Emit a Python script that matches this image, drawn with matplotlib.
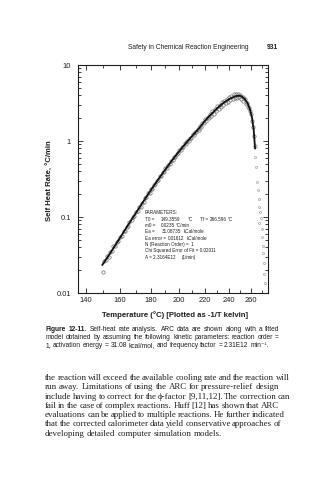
import matplotlib
matplotlib.use("Agg")
import matplotlib.pyplot as plt
from matplotlib.ticker import FixedLocator, NullFormatter, LogLocator

# ARC self-heat rate data (deg C, deg C/min)
data_temp = [149.6, 150.5, 151.3, 152.4, 153.2, 154.1, 155.3, 156.0, 157.2, 158.1,
             159.0, 160.2, 161.1, 162.3, 163.0, 164.2, 165.1, 166.0, 167.3, 168.2,
             169.0, 170.1, 171.2, 172.0, 173.3, 174.1, 175.2, 176.0, 177.1, 178.3,
             179.2, 180.0, 181.1, 182.2, 183.0, 184.3, 185.1, 186.2, 187.0, 188.1,
             189.3, 190.2, 191.0, 192.1, 193.2, 194.0, 195.3, 196.1, 197.0, 198.2,
             199.1, 200.0, 201.2, 202.1, 203.0, 204.2, 205.1, 206.0, 207.2, 208.1,
             209.0, 210.2, 211.1, 212.0, 213.2, 214.1, 215.0, 216.2, 217.1, 218.0,
             219.2, 220.1, 221.0, 222.2, 223.1, 224.0, 225.2, 226.1, 227.0, 228.2,
             229.1, 230.0, 231.2, 232.1, 233.0, 234.2, 235.1, 236.0, 237.2, 238.1,
             239.0, 240.2, 241.1, 242.0, 243.2, 244.1, 245.0, 246.2, 247.1, 248.0,
             249.2, 250.1, 251.0, 252.1, 253.0, 254.0, 255.1, 256.0, 257.0, 258.0,
             259.0, 260.0, 261.0, 262.0, 262.8, 263.5]
data_rate = [0.019, 0.026, 0.027, 0.031, 0.030, 0.035, 0.036, 0.041, 0.041, 0.047,
             0.048, 0.055, 0.056, 0.065, 0.066, 0.074, 0.077, 0.087, 0.090, 0.101,
             0.103, 0.116, 0.119, 0.134, 0.137, 0.154, 0.158, 0.177, 0.181, 0.204,
             0.208, 0.232, 0.236, 0.266, 0.270, 0.302, 0.305, 0.342, 0.345, 0.386,
             0.39, 0.44, 0.44, 0.49, 0.495, 0.55, 0.555, 0.61, 0.615, 0.68,
             0.685, 0.76, 0.76, 0.84, 0.83, 0.93, 0.91, 1.01, 1.00, 1.11,
             1.09, 1.22, 1.20, 1.31, 1.30, 1.43, 1.40, 1.58, 1.52, 1.72,
             1.70, 1.92, 1.82, 2.08, 1.98, 2.25, 2.15, 2.45, 2.30, 2.62,
             2.50, 2.85, 2.65, 3.00, 2.80, 3.25, 3.00, 3.40, 3.15, 3.60,
             3.30, 3.85, 3.45, 3.95, 3.55, 4.10, 3.65, 4.20, 3.70, 4.15,
             3.75, 4.05, 3.60, 3.85, 3.40, 3.55, 3.10, 3.20, 2.80, 2.75,
             2.45, 2.25, 1.85, 1.55, 1.15, 0.85]

# points after the fitted curve ends
tail_temp = [264.2, 264.8, 265.6, 266.5, 267.2, 267.8, 268.6, 269.2, 268.0, 270.0,
             270.5, 271.0, 271.5, 272.0, 272.5, 273.5]
tail_rate = [0.62, 0.45, 0.29, 0.23, 0.17, 0.135, 0.116, 0.097, 0.083, 0.070,
             0.055, 0.042, 0.034, 0.025, 0.018, 0.0135]

# fitted model curve
fit_temp = [149.4, 155, 160, 165, 170, 175, 180, 185, 190, 195, 200, 205, 210,
            215, 220, 225, 230, 235, 240, 245, 248, 251, 254, 257, 259, 261,
            262.5, 263.8]
fit_rate = [0.0235, 0.036, 0.053, 0.078, 0.112, 0.16, 0.225, 0.31, 0.42, 0.56,
            0.73, 0.93, 1.17, 1.45, 1.85, 2.25, 2.7, 3.15, 3.55, 3.85, 3.95,
            3.9, 3.6, 3.1, 2.6, 2.0, 1.4, 0.8]

x_ticks = [140, 160, 180, 200, 220, 240, 260]
x_minor = [150, 170, 190, 210, 230, 250, 270]
y_ticks = [0.01, 0.1, 1, 10]
y_tick_labels = ["0.01", "0.1", "1", "10"]

# fit parameter block: (text, x pixel) pairs per line
params = [
    [("PARAMETERS:", 145)],
    [("T0 =", 145), ("149.3559", 161), ("\u00b0C", 188),
     ("Tf =", 200), ("266.596", 210), ("\u00b0C", 228)],
    [("m0 =", 145), ("0.0235", 161), ("\u00b0C/min", 176)],
    [("Ea =", 145), ("31.08735", 162), ("kCal/mole", 184)],
    [("Ea error =", 145), ("0.01612", 168), ("kCal/mole", 187)],
    [("N (Reaction Order) =  1", 145)],
    [("Chi Squared Error of Fit = 0.02011", 145)],
    [("A = 2.3164E12", 145), ("(1/min)", 182)],
]

caption = [
    [("Figure", "bold"), ("12-11.", "bold"), ("Self-heat", None), ("rate", None),
     ("analysis.", None), ("ARC", None), ("data", None), ("are", None), ("shown", None),
     ("along", None), ("with", None), ("a", None), ("fitted", None)],
    "model obtained by assuming the following kinetic parameters: reaction order =",
    "1, activation energy = 31.08 kcal/mol, and frequency factor = 2.31E12 min\u207b\u00b9.",
]

body = [
    "the reaction will exceed the available cooling rate and the reaction will",
    "run away. Limitations of using the ARC for pressure-relief design",
    "include having to correct for the \u03d5-factor [9,11,12]. The correction can",
    "fail in the case of complex reactions. Huff [12] has shown that ARC",
    "evaluations can be applied to multiple reactions. He further indicated",
    "that the corrected calorimeter data yield conservative approaches of",
    "developing detailed computer simulation models.",
]

W, H = 324, 480
ink = "#1e1e1e"
sans = ["Liberation Sans", "DejaVu Sans"]
serif = ["Liberation Serif", "DejaVu Serif"]


def fx(px):
    return px / W


def fy(py):
    return 1 - py / H


def inv_kelvin(t):
    return -1.0 / (t + 273.15)


def from_inv_kelvin(u):
    return -1.0 / u - 273.15


fig = plt.figure(figsize=(W / 100, H / 100), dpi=100)
renderer = fig.canvas.get_renderer()

ax = fig.add_axes([fx(78), fy(293), (268 - 78) / W, (293 - 65) / H])
ax.set_xscale("function", functions=(inv_kelvin, from_inv_kelvin))
ax.set_yscale("log")

ax.plot(data_temp, data_rate, linestyle="none", marker="o", ms=2.4,
        mfc="none", mec="#707070", mew=0.5)
ax.plot(tail_temp, tail_rate, linestyle="none", marker="o", ms=1.5,
        mfc="none", mec="#8a8a8a", mew=0.4)
ax.plot(fit_temp, fit_rate, color="#111111", lw=1.3)

ax.set_xlim(135.5, 276.4)
ax.set_ylim(0.01, 10)
ax.xaxis.set_major_locator(FixedLocator(x_ticks))
ax.xaxis.set_minor_locator(FixedLocator(x_minor))
ax.xaxis.set_minor_formatter(NullFormatter())
ax.set_xticklabels([str(t) for t in x_ticks])
ax.yaxis.set_major_locator(FixedLocator(y_ticks))
ax.yaxis.set_minor_locator(LogLocator(base=10, subs=range(2, 10)))
ax.yaxis.set_minor_formatter(NullFormatter())
ax.set_yticklabels(y_tick_labels)

ax.tick_params(which="both", direction="in", top=True, right=True,
               colors=ink, labelsize=5.4, width=0.6)
ax.tick_params(which="major", length=3.5)
ax.tick_params(which="minor", length=2)
ax.tick_params(axis="x", pad=3)
ax.tick_params(axis="y", pad=5)
for lab in ax.get_xticklabels() + ax.get_yticklabels():
    lab.set_family(sans)
for s in ax.spines.values():
    s.set_linewidth(0.8)
    s.set_color(ink)

fig.text(fx(50), fy(181), "Self Heat Rate, \u00b0C/min", rotation=90,
         ha="center", va="center", fontsize=5.6, fontweight="bold",
         family=sans, color=ink)
fig.text(fx(175), fy(315), "Temperature (\u00b0C) [Plotted as -1/T kelvin]",
         ha="center", va="center", fontsize=5.6, fontweight="bold",
         family=sans, color=ink)

# parameter block inside the plot
for i, row in enumerate(params):
    y = 213 + i * 6.3
    for item, x in row:
        fig.text(fx(x), fy(y), item, fontsize=3.3, family=sans, color=ink,
                 va="center")

# running header
fig.text(fx(128), fy(49), "Safety in Chemical Reaction Engineering",
         fontsize=4.8, family=sans, color=ink, va="baseline")
fig.text(fx(278), fy(49), "931", fontsize=4.8, family=sans, color=ink,
         va="baseline", ha="right", fontweight="bold")


def put_line(words, x0, x1, y, justify, size, family):
    if isinstance(words, str):
        words = [(w, None) for w in words.split()]
    objs = [fig.text(fx(x0), fy(y), w, fontsize=size, family=family,
                     fontweight=wt or "normal", color=ink, va="baseline")
            for w, wt in words]
    widths = [o.get_window_extent(renderer).width for o in objs]
    space = size * 100 / 72 * 0.26
    gap = space
    if justify and len(objs) > 1:
        gap = max((x1 - x0 - sum(widths)) / (len(objs) - 1), space * 0.6)
    x = x0
    for o, w in zip(objs, widths):
        o.set_x(fx(x))
        x += w + gap


for i, line in enumerate(caption):
    put_line(line, 46, 279, 331 + i * 8, i < 2, 4.8, sans)

for i, line in enumerate(body):
    put_line(line, 45, 279, 380 + i * 9.3, i < len(body) - 1, 6.4, serif)

fig.savefig("out.png", dpi=100)
